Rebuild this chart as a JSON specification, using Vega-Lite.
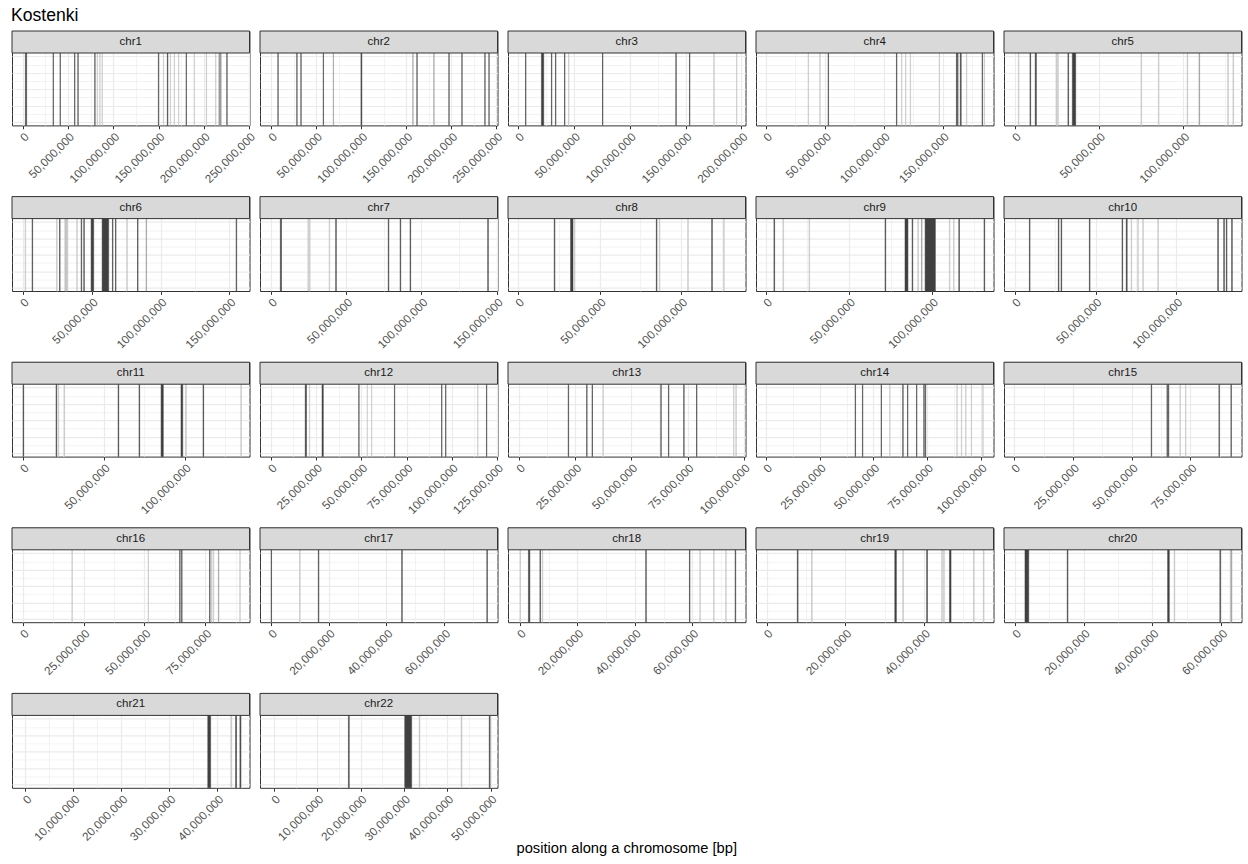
{
"$schema":"https://vega.github.io/schema/vega-lite/v6.json",
"padding":{"left":11,"top":7,"right":5,"bottom":3},
"title":{"text":"Kostenki","anchor":"start","fontSize":17.6,"fontWeight":"normal","color":"#000000","offset":5},
"data":{"values":[
{"chr":"chr1","start":2800000,"end":4200000,"tone":"dark"},
{"chr":"chr1","start":33400000,"end":33800000,"tone":"dark"},
{"chr":"chr1","start":41100000,"end":41500000,"tone":"dark"},
{"chr":"chr1","start":57200000,"end":57600000,"tone":"dark"},
{"chr":"chr1","start":60800000,"end":61200000,"tone":"dark"},
{"chr":"chr1","start":79500000,"end":79900000,"tone":"dark"},
{"chr":"chr1","start":82100000,"end":82500000,"tone":"light"},
{"chr":"chr1","start":85000000,"end":85400000,"tone":"light"},
{"chr":"chr1","start":87500000,"end":87900000,"tone":"light"},
{"chr":"chr1","start":149800000,"end":150200000,"tone":"dark"},
{"chr":"chr1","start":155300000,"end":155700000,"tone":"light"},
{"chr":"chr1","start":159700000,"end":160400000,"tone":"dark"},
{"chr":"chr1","start":163000000,"end":163400000,"tone":"light"},
{"chr":"chr1","start":167300000,"end":167700000,"tone":"light"},
{"chr":"chr1","start":172100000,"end":172500000,"tone":"light"},
{"chr":"chr1","start":180500000,"end":180900000,"tone":"dark"},
{"chr":"chr1","start":189300000,"end":189700000,"tone":"light"},
{"chr":"chr1","start":202800000,"end":203200000,"tone":"light"},
{"chr":"chr1","start":213100000,"end":213500000,"tone":"light"},
{"chr":"chr1","start":216700000,"end":219300000,"tone":"mid"},
{"chr":"chr1","start":225500000,"end":225900000,"tone":"dark"},
{"chr":"chr2","start":7600000,"end":8000000,"tone":"dark"},
{"chr":"chr2","start":28600000,"end":29000000,"tone":"dark"},
{"chr":"chr2","start":33100000,"end":33500000,"tone":"dark"},
{"chr":"chr2","start":57900000,"end":58300000,"tone":"dark"},
{"chr":"chr2","start":69000000,"end":69400000,"tone":"mid"},
{"chr":"chr2","start":99800000,"end":100800000,"tone":"dark"},
{"chr":"chr2","start":157300000,"end":157700000,"tone":"mid"},
{"chr":"chr2","start":161800000,"end":162200000,"tone":"dark"},
{"chr":"chr2","start":180600000,"end":181000000,"tone":"mid"},
{"chr":"chr2","start":197300000,"end":197700000,"tone":"dark"},
{"chr":"chr2","start":211700000,"end":212100000,"tone":"dark"},
{"chr":"chr2","start":237200000,"end":237600000,"tone":"dark"},
{"chr":"chr2","start":241700000,"end":242100000,"tone":"dark"},
{"chr":"chr3","start":6700000,"end":7100000,"tone":"dark"},
{"chr":"chr3","start":20900000,"end":23000000,"tone":"dark"},
{"chr":"chr3","start":29900000,"end":30300000,"tone":"dark"},
{"chr":"chr3","start":33500000,"end":33900000,"tone":"dark"},
{"chr":"chr3","start":41600000,"end":42000000,"tone":"dark"},
{"chr":"chr3","start":45200000,"end":45600000,"tone":"light"},
{"chr":"chr3","start":75600000,"end":76000000,"tone":"dark"},
{"chr":"chr3","start":141300000,"end":141700000,"tone":"dark"},
{"chr":"chr3","start":153500000,"end":153900000,"tone":"dark"},
{"chr":"chr3","start":175300000,"end":175700000,"tone":"light"},
{"chr":"chr3","start":195600000,"end":196000000,"tone":"light"},
{"chr":"chr4","start":35700000,"end":36100000,"tone":"light"},
{"chr":"chr4","start":45600000,"end":46000000,"tone":"light"},
{"chr":"chr4","start":52700000,"end":53100000,"tone":"dark"},
{"chr":"chr4","start":110700000,"end":111100000,"tone":"dark"},
{"chr":"chr4","start":115000000,"end":115400000,"tone":"light"},
{"chr":"chr4","start":118400000,"end":118800000,"tone":"light"},
{"chr":"chr4","start":122300000,"end":122700000,"tone":"light"},
{"chr":"chr4","start":146900000,"end":147300000,"tone":"light"},
{"chr":"chr4","start":161600000,"end":162000000,"tone":"dark"},
{"chr":"chr4","start":162600000,"end":163000000,"tone":"dark"},
{"chr":"chr4","start":164900000,"end":165700000,"tone":"dark"},
{"chr":"chr4","start":170100000,"end":170500000,"tone":"light"},
{"chr":"chr4","start":183400000,"end":183800000,"tone":"dark"},
{"chr":"chr4","start":185100000,"end":185500000,"tone":"light"},
{"chr":"chr5","start":2200000,"end":2600000,"tone":"light"},
{"chr":"chr5","start":9100000,"end":9500000,"tone":"dark"},
{"chr":"chr5","start":12200000,"end":12900000,"tone":"dark"},
{"chr":"chr5","start":24500000,"end":24900000,"tone":"light"},
{"chr":"chr5","start":25500000,"end":25900000,"tone":"light"},
{"chr":"chr5","start":31600000,"end":32000000,"tone":"dark"},
{"chr":"chr5","start":34200000,"end":36200000,"tone":"dark"},
{"chr":"chr5","start":74900000,"end":75300000,"tone":"light"},
{"chr":"chr5","start":85200000,"end":85600000,"tone":"light"},
{"chr":"chr5","start":102200000,"end":102600000,"tone":"light"},
{"chr":"chr5","start":109300000,"end":109700000,"tone":"mid"},
{"chr":"chr5","start":126300000,"end":126700000,"tone":"light"},
{"chr":"chr5","start":129400000,"end":129800000,"tone":"light"},
{"chr":"chr6","start":1700000,"end":2100000,"tone":"light"},
{"chr":"chr6","start":6800000,"end":7200000,"tone":"dark"},
{"chr":"chr6","start":24500000,"end":24900000,"tone":"light"},
{"chr":"chr6","start":26700000,"end":27100000,"tone":"dark"},
{"chr":"chr6","start":30500000,"end":32700000,"tone":"light"},
{"chr":"chr6","start":39200000,"end":39600000,"tone":"light"},
{"chr":"chr6","start":42400000,"end":42800000,"tone":"dark"},
{"chr":"chr6","start":44300000,"end":44700000,"tone":"dark"},
{"chr":"chr6","start":49600000,"end":51500000,"tone":"dark"},
{"chr":"chr6","start":57600000,"end":62400000,"tone":"dark"},
{"chr":"chr6","start":65100000,"end":65500000,"tone":"dark"},
{"chr":"chr6","start":67300000,"end":67700000,"tone":"dark"},
{"chr":"chr6","start":75500000,"end":75900000,"tone":"light"},
{"chr":"chr6","start":83300000,"end":83700000,"tone":"dark"},
{"chr":"chr6","start":89500000,"end":89900000,"tone":"mid"},
{"chr":"chr6","start":154900000,"end":155300000,"tone":"dark"},
{"chr":"chr7","start":6200000,"end":7000000,"tone":"dark"},
{"chr":"chr7","start":24500000,"end":24900000,"tone":"light"},
{"chr":"chr7","start":25600000,"end":26000000,"tone":"light"},
{"chr":"chr7","start":38600000,"end":39000000,"tone":"light"},
{"chr":"chr7","start":43000000,"end":43400000,"tone":"dark"},
{"chr":"chr7","start":77900000,"end":78300000,"tone":"dark"},
{"chr":"chr7","start":85800000,"end":86200000,"tone":"dark"},
{"chr":"chr7","start":92400000,"end":92800000,"tone":"dark"},
{"chr":"chr7","start":144000000,"end":144400000,"tone":"dark"},
{"chr":"chr8","start":22200000,"end":22600000,"tone":"dark"},
{"chr":"chr8","start":32200000,"end":33700000,"tone":"dark"},
{"chr":"chr8","start":34500000,"end":34900000,"tone":"light"},
{"chr":"chr8","start":84700000,"end":85100000,"tone":"dark"},
{"chr":"chr8","start":86500000,"end":86900000,"tone":"light"},
{"chr":"chr8","start":103900000,"end":104300000,"tone":"light"},
{"chr":"chr8","start":118600000,"end":119000000,"tone":"dark"},
{"chr":"chr8","start":125900000,"end":126300000,"tone":"light"},
{"chr":"chr9","start":4800000,"end":5200000,"tone":"dark"},
{"chr":"chr9","start":10200000,"end":10600000,"tone":"light"},
{"chr":"chr9","start":25900000,"end":26300000,"tone":"light"},
{"chr":"chr9","start":71700000,"end":72100000,"tone":"dark"},
{"chr":"chr9","start":83700000,"end":85500000,"tone":"dark"},
{"chr":"chr9","start":88000000,"end":88400000,"tone":"dark"},
{"chr":"chr9","start":91400000,"end":91800000,"tone":"light"},
{"chr":"chr9","start":93600000,"end":94000000,"tone":"mid"},
{"chr":"chr9","start":95800000,"end":102000000,"tone":"dark"},
{"chr":"chr9","start":110400000,"end":110800000,"tone":"light"},
{"chr":"chr9","start":112900000,"end":113300000,"tone":"light"},
{"chr":"chr9","start":116100000,"end":116500000,"tone":"dark"},
{"chr":"chr9","start":131300000,"end":131700000,"tone":"dark"},
{"chr":"chr10","start":9100000,"end":9500000,"tone":"dark"},
{"chr":"chr10","start":27000000,"end":27400000,"tone":"dark"},
{"chr":"chr10","start":28700000,"end":29100000,"tone":"dark"},
{"chr":"chr10","start":46200000,"end":46600000,"tone":"dark"},
{"chr":"chr10","start":66400000,"end":66800000,"tone":"dark"},
{"chr":"chr10","start":69000000,"end":69600000,"tone":"dark"},
{"chr":"chr10","start":72000000,"end":72400000,"tone":"light"},
{"chr":"chr10","start":76100000,"end":76500000,"tone":"light"},
{"chr":"chr10","start":79200000,"end":79600000,"tone":"light"},
{"chr":"chr10","start":88500000,"end":88900000,"tone":"light"},
{"chr":"chr10","start":125600000,"end":126000000,"tone":"dark"},
{"chr":"chr10","start":129300000,"end":129700000,"tone":"dark"},
{"chr":"chr10","start":130900000,"end":131300000,"tone":"dark"},
{"chr":"chr10","start":134200000,"end":134600000,"tone":"dark"},
{"chr":"chr11","start":200000,"end":600000,"tone":"dark"},
{"chr":"chr11","start":20600000,"end":21000000,"tone":"dark"},
{"chr":"chr11","start":21800000,"end":22200000,"tone":"light"},
{"chr":"chr11","start":25500000,"end":25900000,"tone":"light"},
{"chr":"chr11","start":58900000,"end":59300000,"tone":"dark"},
{"chr":"chr11","start":71800000,"end":72200000,"tone":"dark"},
{"chr":"chr11","start":85400000,"end":86800000,"tone":"dark"},
{"chr":"chr11","start":97700000,"end":98800000,"tone":"dark"},
{"chr":"chr11","start":100600000,"end":101000000,"tone":"light"},
{"chr":"chr11","start":111300000,"end":111700000,"tone":"dark"},
{"chr":"chr11","start":134600000,"end":135000000,"tone":"light"},
{"chr":"chr12","start":19000000,"end":19700000,"tone":"dark"},
{"chr":"chr12","start":21300000,"end":21500000,"tone":"light"},
{"chr":"chr12","start":28300000,"end":29000000,"tone":"dark"},
{"chr":"chr12","start":48600000,"end":48800000,"tone":"dark"},
{"chr":"chr12","start":53200000,"end":53400000,"tone":"light"},
{"chr":"chr12","start":55600000,"end":55800000,"tone":"light"},
{"chr":"chr12","start":68300000,"end":68500000,"tone":"dark"},
{"chr":"chr12","start":94400000,"end":94600000,"tone":"dark"},
{"chr":"chr12","start":96600000,"end":96800000,"tone":"dark"},
{"chr":"chr12","start":114300000,"end":114500000,"tone":"light"},
{"chr":"chr12","start":119200000,"end":119400000,"tone":"dark"},
{"chr":"chr13","start":21900000,"end":22100000,"tone":"dark"},
{"chr":"chr13","start":30100000,"end":30300000,"tone":"dark"},
{"chr":"chr13","start":32500000,"end":32700000,"tone":"dark"},
{"chr":"chr13","start":37300000,"end":37500000,"tone":"light"},
{"chr":"chr13","start":63100000,"end":63300000,"tone":"dark"},
{"chr":"chr13","start":66500000,"end":66700000,"tone":"dark"},
{"chr":"chr13","start":73300000,"end":73500000,"tone":"dark"},
{"chr":"chr13","start":79000000,"end":79200000,"tone":"dark"},
{"chr":"chr13","start":95500000,"end":95700000,"tone":"light"},
{"chr":"chr13","start":96500000,"end":96700000,"tone":"light"},
{"chr":"chr14","start":41500000,"end":41700000,"tone":"dark"},
{"chr":"chr14","start":44900000,"end":45100000,"tone":"dark"},
{"chr":"chr14","start":53600000,"end":53800000,"tone":"dark"},
{"chr":"chr14","start":57600000,"end":57800000,"tone":"light"},
{"chr":"chr14","start":63700000,"end":63900000,"tone":"dark"},
{"chr":"chr14","start":65900000,"end":66100000,"tone":"dark"},
{"chr":"chr14","start":70100000,"end":70300000,"tone":"dark"},
{"chr":"chr14","start":73500000,"end":73700000,"tone":"dark"},
{"chr":"chr14","start":74200000,"end":74400000,"tone":"dark"},
{"chr":"chr14","start":88900000,"end":89100000,"tone":"light"},
{"chr":"chr14","start":91000000,"end":91200000,"tone":"light"},
{"chr":"chr14","start":93000000,"end":93200000,"tone":"light"},
{"chr":"chr14","start":95600000,"end":95800000,"tone":"light"},
{"chr":"chr14","start":101000000,"end":101200000,"tone":"light"},
{"chr":"chr15","start":58300000,"end":58500000,"tone":"dark"},
{"chr":"chr15","start":65000000,"end":65200000,"tone":"dark"},
{"chr":"chr15","start":65600000,"end":65800000,"tone":"dark"},
{"chr":"chr15","start":70500000,"end":70700000,"tone":"light"},
{"chr":"chr15","start":72900000,"end":73100000,"tone":"light"},
{"chr":"chr15","start":87100000,"end":87300000,"tone":"dark"},
{"chr":"chr15","start":92200000,"end":92400000,"tone":"dark"},
{"chr":"chr16","start":20200000,"end":20400000,"tone":"light"},
{"chr":"chr16","start":51500000,"end":51700000,"tone":"light"},
{"chr":"chr16","start":64500000,"end":64700000,"tone":"dark"},
{"chr":"chr16","start":65300000,"end":65500000,"tone":"dark"},
{"chr":"chr16","start":76800000,"end":77000000,"tone":"dark"},
{"chr":"chr16","start":77600000,"end":77800000,"tone":"light"},
{"chr":"chr16","start":78300000,"end":78500000,"tone":"light"},
{"chr":"chr16","start":80400000,"end":80600000,"tone":"mid"},
{"chr":"chr16","start":89200000,"end":89400000,"tone":"light"},
{"chr":"chr17","start":50000,"end":200000,"tone":"dark"},
{"chr":"chr17","start":9900000,"end":10100000,"tone":"light"},
{"chr":"chr17","start":16400000,"end":16600000,"tone":"dark"},
{"chr":"chr17","start":45300000,"end":45500000,"tone":"dark"},
{"chr":"chr17","start":74800000,"end":75000000,"tone":"dark"},
{"chr":"chr18","start":50000,"end":200000,"tone":"light"},
{"chr":"chr18","start":3000000,"end":3500000,"tone":"dark"},
{"chr":"chr18","start":7000000,"end":7200000,"tone":"dark"},
{"chr":"chr18","start":7800000,"end":8000000,"tone":"light"},
{"chr":"chr18","start":43800000,"end":44000000,"tone":"dark"},
{"chr":"chr18","start":59000000,"end":59200000,"tone":"dark"},
{"chr":"chr18","start":62600000,"end":62800000,"tone":"light"},
{"chr":"chr18","start":67400000,"end":67600000,"tone":"light"},
{"chr":"chr18","start":71600000,"end":71800000,"tone":"light"},
{"chr":"chr18","start":74900000,"end":75100000,"tone":"dark"},
{"chr":"chr19","start":7800000,"end":8000000,"tone":"dark"},
{"chr":"chr19","start":11400000,"end":11600000,"tone":"light"},
{"chr":"chr19","start":32600000,"end":33000000,"tone":"dark"},
{"chr":"chr19","start":34600000,"end":34800000,"tone":"light"},
{"chr":"chr19","start":40700000,"end":40900000,"tone":"dark"},
{"chr":"chr19","start":44500000,"end":44700000,"tone":"light"},
{"chr":"chr19","start":45000000,"end":45200000,"tone":"light"},
{"chr":"chr19","start":46500000,"end":46900000,"tone":"dark"},
{"chr":"chr19","start":52600000,"end":52800000,"tone":"light"},
{"chr":"chr19","start":55100000,"end":55300000,"tone":"light"},
{"chr":"chr20","start":2900000,"end":4000000,"tone":"dark"},
{"chr":"chr20","start":15200000,"end":15400000,"tone":"dark"},
{"chr":"chr20","start":44400000,"end":44900000,"tone":"dark"},
{"chr":"chr20","start":46300000,"end":46500000,"tone":"light"},
{"chr":"chr20","start":59600000,"end":59800000,"tone":"dark"},
{"chr":"chr20","start":62600000,"end":62800000,"tone":"light"},
{"chr":"chr20","start":62900000,"end":63100000,"tone":"mid"},
{"chr":"chr21","start":38000000,"end":38600000,"tone":"dark"},
{"chr":"chr21","start":42800000,"end":43000000,"tone":"light"},
{"chr":"chr21","start":43800000,"end":44000000,"tone":"dark"},
{"chr":"chr21","start":44700000,"end":44900000,"tone":"dark"},
{"chr":"chr22","start":17200000,"end":17400000,"tone":"dark"},
{"chr":"chr22","start":30200000,"end":31800000,"tone":"dark"},
{"chr":"chr22","start":33500000,"end":33700000,"tone":"light"},
{"chr":"chr22","start":43200000,"end":43400000,"tone":"light"},
{"chr":"chr22","start":49700000,"end":49900000,"tone":"dark"}
]},
"vconcat":[{
"title":{"text":"position along a chromosome [bp]","orient":"bottom","anchor":"middle","fontSize":14.7,"fontWeight":"normal","color":"#000000","offset":-2},
"columns":5,
"spacing":{"row":70.6,"column":10},
"bounds":"flush",
"concat":[
{"transform":[{"filter":"datum.chr==='chr1'"}],"layer":[
{"mark":{"type":"rect","strokeWidth":0.5},"encoding":{
"x":{"field":"start","type":"quantitative","title":null,"scale":{"domain":[-12000000,250600000],"nice":false,"zero":false},"axis":{"values":[0,25000000.5,50000000,75000000.5,100000000,125000000.5,150000000,175000000.5,200000000,225000000.5,250000000],"tickCount":100,"labelExpr":"datum.value%1===0?format(datum.value,','):''","tickOpacity":{"condition":{"test":"datum.value%1===0","value":1},"value":0},"gridWidth":{"condition":{"test":"datum.value%1===0","value":1.2},"value":0.6}}},
"x2":{"field":"end"},
"y":{"datum":-0.05,"type":"quantitative","title":null,"scale":{"domain":[-0.05,1.3843],"nice":false,"zero":false},"axis":{"values":[0,0.125,0.25,0.375,0.5,0.625,0.75,0.875,1],"tickCount":100,"gridWidth":{"condition":{"test":"datum.value*4%1===0","value":1.2},"value":0.6}}},
"y2":{"datum":1.05},
"fill":{"field":"tone","type":"nominal","legend":null},
"stroke":{"field":"tone","type":"nominal","legend":null}}},
{"transform":[{"aggregate":[{"op":"count","as":"n"}],"groupby":["chr"]}],"mark":{"type":"rect","fill":"#D9D9D9","stroke":"#333333","strokeWidth":1},"encoding":{"y":{"datum":1.05,"type":"quantitative"},"y2":{"datum":1.3843}}},
{"transform":[{"aggregate":[{"op":"count","as":"n"}],"groupby":["chr"]}],"mark":{"type":"text"},"encoding":{"y":{"datum":1.217,"type":"quantitative"},"text":{"field":"chr"}}}
]},
{"transform":[{"filter":"datum.chr==='chr2'"}],"layer":[
{"mark":{"type":"rect","strokeWidth":0.5},"encoding":{
"x":{"field":"start","type":"quantitative","title":null,"scale":{"domain":[-12200000,251300000],"nice":false,"zero":false},"axis":{"values":[0,25000000.5,50000000,75000000.5,100000000,125000000.5,150000000,175000000.5,200000000,225000000.5,250000000],"tickCount":100,"labelExpr":"datum.value%1===0?format(datum.value,','):''","tickOpacity":{"condition":{"test":"datum.value%1===0","value":1},"value":0},"gridWidth":{"condition":{"test":"datum.value%1===0","value":1.2},"value":0.6}}},
"x2":{"field":"end"},
"y":{"datum":-0.05,"type":"quantitative","title":null,"scale":{"domain":[-0.05,1.3843],"nice":false,"zero":false},"axis":{"values":[0,0.125,0.25,0.375,0.5,0.625,0.75,0.875,1],"tickCount":100,"gridWidth":{"condition":{"test":"datum.value*4%1===0","value":1.2},"value":0.6}}},
"y2":{"datum":1.05},
"fill":{"field":"tone","type":"nominal","legend":null},
"stroke":{"field":"tone","type":"nominal","legend":null}}},
{"transform":[{"aggregate":[{"op":"count","as":"n"}],"groupby":["chr"]}],"mark":{"type":"rect","fill":"#D9D9D9","stroke":"#333333","strokeWidth":1},"encoding":{"y":{"datum":1.05,"type":"quantitative"},"y2":{"datum":1.3843}}},
{"transform":[{"aggregate":[{"op":"count","as":"n"}],"groupby":["chr"]}],"mark":{"type":"text"},"encoding":{"y":{"datum":1.217,"type":"quantitative"},"text":{"field":"chr"}}}
]},
{"transform":[{"filter":"datum.chr==='chr3'"}],"layer":[
{"mark":{"type":"rect","strokeWidth":0.5},"encoding":{
"x":{"field":"start","type":"quantitative","title":null,"scale":{"domain":[-9000000,203700000],"nice":false,"zero":false},"axis":{"values":[0,25000000.5,50000000,75000000.5,100000000,125000000.5,150000000,175000000.5,200000000],"tickCount":100,"labelExpr":"datum.value%1===0?format(datum.value,','):''","tickOpacity":{"condition":{"test":"datum.value%1===0","value":1},"value":0},"gridWidth":{"condition":{"test":"datum.value%1===0","value":1.2},"value":0.6}}},
"x2":{"field":"end"},
"y":{"datum":-0.05,"type":"quantitative","title":null,"scale":{"domain":[-0.05,1.3843],"nice":false,"zero":false},"axis":{"values":[0,0.125,0.25,0.375,0.5,0.625,0.75,0.875,1],"tickCount":100,"gridWidth":{"condition":{"test":"datum.value*4%1===0","value":1.2},"value":0.6}}},
"y2":{"datum":1.05},
"fill":{"field":"tone","type":"nominal","legend":null},
"stroke":{"field":"tone","type":"nominal","legend":null}}},
{"transform":[{"aggregate":[{"op":"count","as":"n"}],"groupby":["chr"]}],"mark":{"type":"rect","fill":"#D9D9D9","stroke":"#333333","strokeWidth":1},"encoding":{"y":{"datum":1.05,"type":"quantitative"},"y2":{"datum":1.3843}}},
{"transform":[{"aggregate":[{"op":"count","as":"n"}],"groupby":["chr"]}],"mark":{"type":"text"},"encoding":{"y":{"datum":1.217,"type":"quantitative"},"text":{"field":"chr"}}}
]},
{"transform":[{"filter":"datum.chr==='chr4'"}],"layer":[
{"mark":{"type":"rect","strokeWidth":0.5},"encoding":{
"x":{"field":"start","type":"quantitative","title":null,"scale":{"domain":[-8500000,193100000],"nice":false,"zero":false},"axis":{"values":[0,25000000.5,50000000,75000000.5,100000000,125000000.5,150000000,175000000.5],"tickCount":100,"labelExpr":"datum.value%1===0?format(datum.value,','):''","tickOpacity":{"condition":{"test":"datum.value%1===0","value":1},"value":0},"gridWidth":{"condition":{"test":"datum.value%1===0","value":1.2},"value":0.6}}},
"x2":{"field":"end"},
"y":{"datum":-0.05,"type":"quantitative","title":null,"scale":{"domain":[-0.05,1.3843],"nice":false,"zero":false},"axis":{"values":[0,0.125,0.25,0.375,0.5,0.625,0.75,0.875,1],"tickCount":100,"gridWidth":{"condition":{"test":"datum.value*4%1===0","value":1.2},"value":0.6}}},
"y2":{"datum":1.05},
"fill":{"field":"tone","type":"nominal","legend":null},
"stroke":{"field":"tone","type":"nominal","legend":null}}},
{"transform":[{"aggregate":[{"op":"count","as":"n"}],"groupby":["chr"]}],"mark":{"type":"rect","fill":"#D9D9D9","stroke":"#333333","strokeWidth":1},"encoding":{"y":{"datum":1.05,"type":"quantitative"},"y2":{"datum":1.3843}}},
{"transform":[{"aggregate":[{"op":"count","as":"n"}],"groupby":["chr"]}],"mark":{"type":"text"},"encoding":{"y":{"datum":1.217,"type":"quantitative"},"text":{"field":"chr"}}}
]},
{"transform":[{"filter":"datum.chr==='chr5'"}],"layer":[
{"mark":{"type":"rect","strokeWidth":0.5},"encoding":{
"x":{"field":"start","type":"quantitative","title":null,"scale":{"domain":[-6300000,134500000],"nice":false,"zero":false},"axis":{"values":[0,25000000.5,50000000,75000000.5,100000000,125000000.5],"tickCount":100,"labelExpr":"datum.value%1===0?format(datum.value,','):''","tickOpacity":{"condition":{"test":"datum.value%1===0","value":1},"value":0},"gridWidth":{"condition":{"test":"datum.value%1===0","value":1.2},"value":0.6}}},
"x2":{"field":"end"},
"y":{"datum":-0.05,"type":"quantitative","title":null,"scale":{"domain":[-0.05,1.3843],"nice":false,"zero":false},"axis":{"values":[0,0.125,0.25,0.375,0.5,0.625,0.75,0.875,1],"tickCount":100,"gridWidth":{"condition":{"test":"datum.value*4%1===0","value":1.2},"value":0.6}}},
"y2":{"datum":1.05},
"fill":{"field":"tone","type":"nominal","legend":null},
"stroke":{"field":"tone","type":"nominal","legend":null}}},
{"transform":[{"aggregate":[{"op":"count","as":"n"}],"groupby":["chr"]}],"mark":{"type":"rect","fill":"#D9D9D9","stroke":"#333333","strokeWidth":1},"encoding":{"y":{"datum":1.05,"type":"quantitative"},"y2":{"datum":1.3843}}},
{"transform":[{"aggregate":[{"op":"count","as":"n"}],"groupby":["chr"]}],"mark":{"type":"text"},"encoding":{"y":{"datum":1.217,"type":"quantitative"},"text":{"field":"chr"}}}
]},
{"transform":[{"filter":"datum.chr==='chr6'"}],"layer":[
{"mark":{"type":"rect","strokeWidth":0.5},"encoding":{
"x":{"field":"start","type":"quantitative","title":null,"scale":{"domain":[-7800000,164600000],"nice":false,"zero":false},"axis":{"values":[0,25000000.5,50000000,75000000.5,100000000,125000000.5,150000000],"tickCount":100,"labelExpr":"datum.value%1===0?format(datum.value,','):''","tickOpacity":{"condition":{"test":"datum.value%1===0","value":1},"value":0},"gridWidth":{"condition":{"test":"datum.value%1===0","value":1.2},"value":0.6}}},
"x2":{"field":"end"},
"y":{"datum":-0.05,"type":"quantitative","title":null,"scale":{"domain":[-0.05,1.3843],"nice":false,"zero":false},"axis":{"values":[0,0.125,0.25,0.375,0.5,0.625,0.75,0.875,1],"tickCount":100,"gridWidth":{"condition":{"test":"datum.value*4%1===0","value":1.2},"value":0.6}}},
"y2":{"datum":1.05},
"fill":{"field":"tone","type":"nominal","legend":null},
"stroke":{"field":"tone","type":"nominal","legend":null}}},
{"transform":[{"aggregate":[{"op":"count","as":"n"}],"groupby":["chr"]}],"mark":{"type":"rect","fill":"#D9D9D9","stroke":"#333333","strokeWidth":1},"encoding":{"y":{"datum":1.05,"type":"quantitative"},"y2":{"datum":1.3843}}},
{"transform":[{"aggregate":[{"op":"count","as":"n"}],"groupby":["chr"]}],"mark":{"type":"text"},"encoding":{"y":{"datum":1.217,"type":"quantitative"},"text":{"field":"chr"}}}
]},
{"transform":[{"filter":"datum.chr==='chr7'"}],"layer":[
{"mark":{"type":"rect","strokeWidth":0.5},"encoding":{
"x":{"field":"start","type":"quantitative","title":null,"scale":{"domain":[-7300000,150500000],"nice":false,"zero":false},"axis":{"values":[0,25000000.5,50000000,75000000.5,100000000,125000000.5,150000000],"tickCount":100,"labelExpr":"datum.value%1===0?format(datum.value,','):''","tickOpacity":{"condition":{"test":"datum.value%1===0","value":1},"value":0},"gridWidth":{"condition":{"test":"datum.value%1===0","value":1.2},"value":0.6}}},
"x2":{"field":"end"},
"y":{"datum":-0.05,"type":"quantitative","title":null,"scale":{"domain":[-0.05,1.3843],"nice":false,"zero":false},"axis":{"values":[0,0.125,0.25,0.375,0.5,0.625,0.75,0.875,1],"tickCount":100,"gridWidth":{"condition":{"test":"datum.value*4%1===0","value":1.2},"value":0.6}}},
"y2":{"datum":1.05},
"fill":{"field":"tone","type":"nominal","legend":null},
"stroke":{"field":"tone","type":"nominal","legend":null}}},
{"transform":[{"aggregate":[{"op":"count","as":"n"}],"groupby":["chr"]}],"mark":{"type":"rect","fill":"#D9D9D9","stroke":"#333333","strokeWidth":1},"encoding":{"y":{"datum":1.05,"type":"quantitative"},"y2":{"datum":1.3843}}},
{"transform":[{"aggregate":[{"op":"count","as":"n"}],"groupby":["chr"]}],"mark":{"type":"text"},"encoding":{"y":{"datum":1.217,"type":"quantitative"},"text":{"field":"chr"}}}
]},
{"transform":[{"filter":"datum.chr==='chr8'"}],"layer":[
{"mark":{"type":"rect","strokeWidth":0.5},"encoding":{
"x":{"field":"start","type":"quantitative","title":null,"scale":{"domain":[-6100000,139300000],"nice":false,"zero":false},"axis":{"values":[0,25000000.5,50000000,75000000.5,100000000,125000000.5],"tickCount":100,"labelExpr":"datum.value%1===0?format(datum.value,','):''","tickOpacity":{"condition":{"test":"datum.value%1===0","value":1},"value":0},"gridWidth":{"condition":{"test":"datum.value%1===0","value":1.2},"value":0.6}}},
"x2":{"field":"end"},
"y":{"datum":-0.05,"type":"quantitative","title":null,"scale":{"domain":[-0.05,1.3843],"nice":false,"zero":false},"axis":{"values":[0,0.125,0.25,0.375,0.5,0.625,0.75,0.875,1],"tickCount":100,"gridWidth":{"condition":{"test":"datum.value*4%1===0","value":1.2},"value":0.6}}},
"y2":{"datum":1.05},
"fill":{"field":"tone","type":"nominal","legend":null},
"stroke":{"field":"tone","type":"nominal","legend":null}}},
{"transform":[{"aggregate":[{"op":"count","as":"n"}],"groupby":["chr"]}],"mark":{"type":"rect","fill":"#D9D9D9","stroke":"#333333","strokeWidth":1},"encoding":{"y":{"datum":1.05,"type":"quantitative"},"y2":{"datum":1.3843}}},
{"transform":[{"aggregate":[{"op":"count","as":"n"}],"groupby":["chr"]}],"mark":{"type":"text"},"encoding":{"y":{"datum":1.217,"type":"quantitative"},"text":{"field":"chr"}}}
]},
{"transform":[{"filter":"datum.chr==='chr9'"}],"layer":[
{"mark":{"type":"rect","strokeWidth":0.5},"encoding":{
"x":{"field":"start","type":"quantitative","title":null,"scale":{"domain":[-6000000,137000000],"nice":false,"zero":false},"axis":{"values":[0,25000000.5,50000000,75000000.5,100000000,125000000.5],"tickCount":100,"labelExpr":"datum.value%1===0?format(datum.value,','):''","tickOpacity":{"condition":{"test":"datum.value%1===0","value":1},"value":0},"gridWidth":{"condition":{"test":"datum.value%1===0","value":1.2},"value":0.6}}},
"x2":{"field":"end"},
"y":{"datum":-0.05,"type":"quantitative","title":null,"scale":{"domain":[-0.05,1.3843],"nice":false,"zero":false},"axis":{"values":[0,0.125,0.25,0.375,0.5,0.625,0.75,0.875,1],"tickCount":100,"gridWidth":{"condition":{"test":"datum.value*4%1===0","value":1.2},"value":0.6}}},
"y2":{"datum":1.05},
"fill":{"field":"tone","type":"nominal","legend":null},
"stroke":{"field":"tone","type":"nominal","legend":null}}},
{"transform":[{"aggregate":[{"op":"count","as":"n"}],"groupby":["chr"]}],"mark":{"type":"rect","fill":"#D9D9D9","stroke":"#333333","strokeWidth":1},"encoding":{"y":{"datum":1.05,"type":"quantitative"},"y2":{"datum":1.3843}}},
{"transform":[{"aggregate":[{"op":"count","as":"n"}],"groupby":["chr"]}],"mark":{"type":"text"},"encoding":{"y":{"datum":1.217,"type":"quantitative"},"text":{"field":"chr"}}}
]},
{"transform":[{"filter":"datum.chr==='chr10'"}],"layer":[
{"mark":{"type":"rect","strokeWidth":0.5},"encoding":{
"x":{"field":"start","type":"quantitative","title":null,"scale":{"domain":[-6600000,140300000],"nice":false,"zero":false},"axis":{"values":[0,25000000.5,50000000,75000000.5,100000000,125000000.5],"tickCount":100,"labelExpr":"datum.value%1===0?format(datum.value,','):''","tickOpacity":{"condition":{"test":"datum.value%1===0","value":1},"value":0},"gridWidth":{"condition":{"test":"datum.value%1===0","value":1.2},"value":0.6}}},
"x2":{"field":"end"},
"y":{"datum":-0.05,"type":"quantitative","title":null,"scale":{"domain":[-0.05,1.3843],"nice":false,"zero":false},"axis":{"values":[0,0.125,0.25,0.375,0.5,0.625,0.75,0.875,1],"tickCount":100,"gridWidth":{"condition":{"test":"datum.value*4%1===0","value":1.2},"value":0.6}}},
"y2":{"datum":1.05},
"fill":{"field":"tone","type":"nominal","legend":null},
"stroke":{"field":"tone","type":"nominal","legend":null}}},
{"transform":[{"aggregate":[{"op":"count","as":"n"}],"groupby":["chr"]}],"mark":{"type":"rect","fill":"#D9D9D9","stroke":"#333333","strokeWidth":1},"encoding":{"y":{"datum":1.05,"type":"quantitative"},"y2":{"datum":1.3843}}},
{"transform":[{"aggregate":[{"op":"count","as":"n"}],"groupby":["chr"]}],"mark":{"type":"text"},"encoding":{"y":{"datum":1.217,"type":"quantitative"},"text":{"field":"chr"}}}
]},
{"transform":[{"filter":"datum.chr==='chr11'"}],"layer":[
{"mark":{"type":"rect","strokeWidth":0.5},"encoding":{
"x":{"field":"start","type":"quantitative","title":null,"scale":{"domain":[-6600000,140000000],"nice":false,"zero":false},"axis":{"values":[0,25000000.5,50000000,75000000.5,100000000,125000000.5],"tickCount":100,"labelExpr":"datum.value%1===0?format(datum.value,','):''","tickOpacity":{"condition":{"test":"datum.value%1===0","value":1},"value":0},"gridWidth":{"condition":{"test":"datum.value%1===0","value":1.2},"value":0.6}}},
"x2":{"field":"end"},
"y":{"datum":-0.05,"type":"quantitative","title":null,"scale":{"domain":[-0.05,1.3843],"nice":false,"zero":false},"axis":{"values":[0,0.125,0.25,0.375,0.5,0.625,0.75,0.875,1],"tickCount":100,"gridWidth":{"condition":{"test":"datum.value*4%1===0","value":1.2},"value":0.6}}},
"y2":{"datum":1.05},
"fill":{"field":"tone","type":"nominal","legend":null},
"stroke":{"field":"tone","type":"nominal","legend":null}}},
{"transform":[{"aggregate":[{"op":"count","as":"n"}],"groupby":["chr"]}],"mark":{"type":"rect","fill":"#D9D9D9","stroke":"#333333","strokeWidth":1},"encoding":{"y":{"datum":1.05,"type":"quantitative"},"y2":{"datum":1.3843}}},
{"transform":[{"aggregate":[{"op":"count","as":"n"}],"groupby":["chr"]}],"mark":{"type":"text"},"encoding":{"y":{"datum":1.217,"type":"quantitative"},"text":{"field":"chr"}}}
]},
{"transform":[{"filter":"datum.chr==='chr12'"}],"layer":[
{"mark":{"type":"rect","strokeWidth":0.5},"encoding":{
"x":{"field":"start","type":"quantitative","title":null,"scale":{"domain":[-6000000,125300000],"nice":false,"zero":false},"axis":{"values":[0,12500000.5,25000000,37500000.5,50000000,62500000.5,75000000,87500000.5,100000000,112500000.5,125000000],"tickCount":100,"labelExpr":"datum.value%1===0?format(datum.value,','):''","tickOpacity":{"condition":{"test":"datum.value%1===0","value":1},"value":0},"gridWidth":{"condition":{"test":"datum.value%1===0","value":1.2},"value":0.6}}},
"x2":{"field":"end"},
"y":{"datum":-0.05,"type":"quantitative","title":null,"scale":{"domain":[-0.05,1.3843],"nice":false,"zero":false},"axis":{"values":[0,0.125,0.25,0.375,0.5,0.625,0.75,0.875,1],"tickCount":100,"gridWidth":{"condition":{"test":"datum.value*4%1===0","value":1.2},"value":0.6}}},
"y2":{"datum":1.05},
"fill":{"field":"tone","type":"nominal","legend":null},
"stroke":{"field":"tone","type":"nominal","legend":null}}},
{"transform":[{"aggregate":[{"op":"count","as":"n"}],"groupby":["chr"]}],"mark":{"type":"rect","fill":"#D9D9D9","stroke":"#333333","strokeWidth":1},"encoding":{"y":{"datum":1.05,"type":"quantitative"},"y2":{"datum":1.3843}}},
{"transform":[{"aggregate":[{"op":"count","as":"n"}],"groupby":["chr"]}],"mark":{"type":"text"},"encoding":{"y":{"datum":1.217,"type":"quantitative"},"text":{"field":"chr"}}}
]},
{"transform":[{"filter":"datum.chr==='chr13'"}],"layer":[
{"mark":{"type":"rect","strokeWidth":0.5},"encoding":{
"x":{"field":"start","type":"quantitative","title":null,"scale":{"domain":[-4900000,100800000],"nice":false,"zero":false},"axis":{"values":[0,12500000.5,25000000,37500000.5,50000000,62500000.5,75000000,87500000.5,100000000],"tickCount":100,"labelExpr":"datum.value%1===0?format(datum.value,','):''","tickOpacity":{"condition":{"test":"datum.value%1===0","value":1},"value":0},"gridWidth":{"condition":{"test":"datum.value%1===0","value":1.2},"value":0.6}}},
"x2":{"field":"end"},
"y":{"datum":-0.05,"type":"quantitative","title":null,"scale":{"domain":[-0.05,1.3843],"nice":false,"zero":false},"axis":{"values":[0,0.125,0.25,0.375,0.5,0.625,0.75,0.875,1],"tickCount":100,"gridWidth":{"condition":{"test":"datum.value*4%1===0","value":1.2},"value":0.6}}},
"y2":{"datum":1.05},
"fill":{"field":"tone","type":"nominal","legend":null},
"stroke":{"field":"tone","type":"nominal","legend":null}}},
{"transform":[{"aggregate":[{"op":"count","as":"n"}],"groupby":["chr"]}],"mark":{"type":"rect","fill":"#D9D9D9","stroke":"#333333","strokeWidth":1},"encoding":{"y":{"datum":1.05,"type":"quantitative"},"y2":{"datum":1.3843}}},
{"transform":[{"aggregate":[{"op":"count","as":"n"}],"groupby":["chr"]}],"mark":{"type":"text"},"encoding":{"y":{"datum":1.217,"type":"quantitative"},"text":{"field":"chr"}}}
]},
{"transform":[{"filter":"datum.chr==='chr14'"}],"layer":[
{"mark":{"type":"rect","strokeWidth":0.5},"encoding":{
"x":{"field":"start","type":"quantitative","title":null,"scale":{"domain":[-4700000,106000000],"nice":false,"zero":false},"axis":{"values":[0,12500000.5,25000000,37500000.5,50000000,62500000.5,75000000,87500000.5,100000000],"tickCount":100,"labelExpr":"datum.value%1===0?format(datum.value,','):''","tickOpacity":{"condition":{"test":"datum.value%1===0","value":1},"value":0},"gridWidth":{"condition":{"test":"datum.value%1===0","value":1.2},"value":0.6}}},
"x2":{"field":"end"},
"y":{"datum":-0.05,"type":"quantitative","title":null,"scale":{"domain":[-0.05,1.3843],"nice":false,"zero":false},"axis":{"values":[0,0.125,0.25,0.375,0.5,0.625,0.75,0.875,1],"tickCount":100,"gridWidth":{"condition":{"test":"datum.value*4%1===0","value":1.2},"value":0.6}}},
"y2":{"datum":1.05},
"fill":{"field":"tone","type":"nominal","legend":null},
"stroke":{"field":"tone","type":"nominal","legend":null}}},
{"transform":[{"aggregate":[{"op":"count","as":"n"}],"groupby":["chr"]}],"mark":{"type":"rect","fill":"#D9D9D9","stroke":"#333333","strokeWidth":1},"encoding":{"y":{"datum":1.05,"type":"quantitative"},"y2":{"datum":1.3843}}},
{"transform":[{"aggregate":[{"op":"count","as":"n"}],"groupby":["chr"]}],"mark":{"type":"text"},"encoding":{"y":{"datum":1.217,"type":"quantitative"},"text":{"field":"chr"}}}
]},
{"transform":[{"filter":"datum.chr==='chr15'"}],"layer":[
{"mark":{"type":"rect","strokeWidth":0.5},"encoding":{
"x":{"field":"start","type":"quantitative","title":null,"scale":{"domain":[-4300000,96700000],"nice":false,"zero":false},"axis":{"values":[0,12500000.5,25000000,37500000.5,50000000,62500000.5,75000000,87500000.5],"tickCount":100,"labelExpr":"datum.value%1===0?format(datum.value,','):''","tickOpacity":{"condition":{"test":"datum.value%1===0","value":1},"value":0},"gridWidth":{"condition":{"test":"datum.value%1===0","value":1.2},"value":0.6}}},
"x2":{"field":"end"},
"y":{"datum":-0.05,"type":"quantitative","title":null,"scale":{"domain":[-0.05,1.3843],"nice":false,"zero":false},"axis":{"values":[0,0.125,0.25,0.375,0.5,0.625,0.75,0.875,1],"tickCount":100,"gridWidth":{"condition":{"test":"datum.value*4%1===0","value":1.2},"value":0.6}}},
"y2":{"datum":1.05},
"fill":{"field":"tone","type":"nominal","legend":null},
"stroke":{"field":"tone","type":"nominal","legend":null}}},
{"transform":[{"aggregate":[{"op":"count","as":"n"}],"groupby":["chr"]}],"mark":{"type":"rect","fill":"#D9D9D9","stroke":"#333333","strokeWidth":1},"encoding":{"y":{"datum":1.05,"type":"quantitative"},"y2":{"datum":1.3843}}},
{"transform":[{"aggregate":[{"op":"count","as":"n"}],"groupby":["chr"]}],"mark":{"type":"text"},"encoding":{"y":{"datum":1.217,"type":"quantitative"},"text":{"field":"chr"}}}
]},
{"transform":[{"filter":"datum.chr==='chr16'"}],"layer":[
{"mark":{"type":"rect","strokeWidth":0.5},"encoding":{
"x":{"field":"start","type":"quantitative","title":null,"scale":{"domain":[-4400000,93200000],"nice":false,"zero":false},"axis":{"values":[0,12500000.5,25000000,37500000.5,50000000,62500000.5,75000000,87500000.5],"tickCount":100,"labelExpr":"datum.value%1===0?format(datum.value,','):''","tickOpacity":{"condition":{"test":"datum.value%1===0","value":1},"value":0},"gridWidth":{"condition":{"test":"datum.value%1===0","value":1.2},"value":0.6}}},
"x2":{"field":"end"},
"y":{"datum":-0.05,"type":"quantitative","title":null,"scale":{"domain":[-0.05,1.3843],"nice":false,"zero":false},"axis":{"values":[0,0.125,0.25,0.375,0.5,0.625,0.75,0.875,1],"tickCount":100,"gridWidth":{"condition":{"test":"datum.value*4%1===0","value":1.2},"value":0.6}}},
"y2":{"datum":1.05},
"fill":{"field":"tone","type":"nominal","legend":null},
"stroke":{"field":"tone","type":"nominal","legend":null}}},
{"transform":[{"aggregate":[{"op":"count","as":"n"}],"groupby":["chr"]}],"mark":{"type":"rect","fill":"#D9D9D9","stroke":"#333333","strokeWidth":1},"encoding":{"y":{"datum":1.05,"type":"quantitative"},"y2":{"datum":1.3843}}},
{"transform":[{"aggregate":[{"op":"count","as":"n"}],"groupby":["chr"]}],"mark":{"type":"text"},"encoding":{"y":{"datum":1.217,"type":"quantitative"},"text":{"field":"chr"}}}
]},
{"transform":[{"filter":"datum.chr==='chr17'"}],"layer":[
{"mark":{"type":"rect","strokeWidth":0.5},"encoding":{
"x":{"field":"start","type":"quantitative","title":null,"scale":{"domain":[-3800000,78500000],"nice":false,"zero":false},"axis":{"values":[0,10000000.5,20000000,30000000.5,40000000,50000000.5,60000000,70000000.5],"tickCount":100,"labelExpr":"datum.value%1===0?format(datum.value,','):''","tickOpacity":{"condition":{"test":"datum.value%1===0","value":1},"value":0},"gridWidth":{"condition":{"test":"datum.value%1===0","value":1.2},"value":0.6}}},
"x2":{"field":"end"},
"y":{"datum":-0.05,"type":"quantitative","title":null,"scale":{"domain":[-0.05,1.3843],"nice":false,"zero":false},"axis":{"values":[0,0.125,0.25,0.375,0.5,0.625,0.75,0.875,1],"tickCount":100,"gridWidth":{"condition":{"test":"datum.value*4%1===0","value":1.2},"value":0.6}}},
"y2":{"datum":1.05},
"fill":{"field":"tone","type":"nominal","legend":null},
"stroke":{"field":"tone","type":"nominal","legend":null}}},
{"transform":[{"aggregate":[{"op":"count","as":"n"}],"groupby":["chr"]}],"mark":{"type":"rect","fill":"#D9D9D9","stroke":"#333333","strokeWidth":1},"encoding":{"y":{"datum":1.05,"type":"quantitative"},"y2":{"datum":1.3843}}},
{"transform":[{"aggregate":[{"op":"count","as":"n"}],"groupby":["chr"]}],"mark":{"type":"text"},"encoding":{"y":{"datum":1.217,"type":"quantitative"},"text":{"field":"chr"}}}
]},
{"transform":[{"filter":"datum.chr==='chr18'"}],"layer":[
{"mark":{"type":"rect","strokeWidth":0.5},"encoding":{
"x":{"field":"start","type":"quantitative","title":null,"scale":{"domain":[-4100000,78500000],"nice":false,"zero":false},"axis":{"values":[0,10000000.5,20000000,30000000.5,40000000,50000000.5,60000000,70000000.5],"tickCount":100,"labelExpr":"datum.value%1===0?format(datum.value,','):''","tickOpacity":{"condition":{"test":"datum.value%1===0","value":1},"value":0},"gridWidth":{"condition":{"test":"datum.value%1===0","value":1.2},"value":0.6}}},
"x2":{"field":"end"},
"y":{"datum":-0.05,"type":"quantitative","title":null,"scale":{"domain":[-0.05,1.3843],"nice":false,"zero":false},"axis":{"values":[0,0.125,0.25,0.375,0.5,0.625,0.75,0.875,1],"tickCount":100,"gridWidth":{"condition":{"test":"datum.value*4%1===0","value":1.2},"value":0.6}}},
"y2":{"datum":1.05},
"fill":{"field":"tone","type":"nominal","legend":null},
"stroke":{"field":"tone","type":"nominal","legend":null}}},
{"transform":[{"aggregate":[{"op":"count","as":"n"}],"groupby":["chr"]}],"mark":{"type":"rect","fill":"#D9D9D9","stroke":"#333333","strokeWidth":1},"encoding":{"y":{"datum":1.05,"type":"quantitative"},"y2":{"datum":1.3843}}},
{"transform":[{"aggregate":[{"op":"count","as":"n"}],"groupby":["chr"]}],"mark":{"type":"text"},"encoding":{"y":{"datum":1.217,"type":"quantitative"},"text":{"field":"chr"}}}
]},
{"transform":[{"filter":"datum.chr==='chr19'"}],"layer":[
{"mark":{"type":"rect","strokeWidth":0.5},"encoding":{
"x":{"field":"start","type":"quantitative","title":null,"scale":{"domain":[-2700000,57700000],"nice":false,"zero":false},"axis":{"values":[0,10000000.5,20000000,30000000.5,40000000,50000000.5],"tickCount":100,"labelExpr":"datum.value%1===0?format(datum.value,','):''","tickOpacity":{"condition":{"test":"datum.value%1===0","value":1},"value":0},"gridWidth":{"condition":{"test":"datum.value%1===0","value":1.2},"value":0.6}}},
"x2":{"field":"end"},
"y":{"datum":-0.05,"type":"quantitative","title":null,"scale":{"domain":[-0.05,1.3843],"nice":false,"zero":false},"axis":{"values":[0,0.125,0.25,0.375,0.5,0.625,0.75,0.875,1],"tickCount":100,"gridWidth":{"condition":{"test":"datum.value*4%1===0","value":1.2},"value":0.6}}},
"y2":{"datum":1.05},
"fill":{"field":"tone","type":"nominal","legend":null},
"stroke":{"field":"tone","type":"nominal","legend":null}}},
{"transform":[{"aggregate":[{"op":"count","as":"n"}],"groupby":["chr"]}],"mark":{"type":"rect","fill":"#D9D9D9","stroke":"#333333","strokeWidth":1},"encoding":{"y":{"datum":1.05,"type":"quantitative"},"y2":{"datum":1.3843}}},
{"transform":[{"aggregate":[{"op":"count","as":"n"}],"groupby":["chr"]}],"mark":{"type":"text"},"encoding":{"y":{"datum":1.217,"type":"quantitative"},"text":{"field":"chr"}}}
]},
{"transform":[{"filter":"datum.chr==='chr20'"}],"layer":[
{"mark":{"type":"rect","strokeWidth":0.5},"encoding":{
"x":{"field":"start","type":"quantitative","title":null,"scale":{"domain":[-3200000,65900000],"nice":false,"zero":false},"axis":{"values":[0,10000000.5,20000000,30000000.5,40000000,50000000.5,60000000],"tickCount":100,"labelExpr":"datum.value%1===0?format(datum.value,','):''","tickOpacity":{"condition":{"test":"datum.value%1===0","value":1},"value":0},"gridWidth":{"condition":{"test":"datum.value%1===0","value":1.2},"value":0.6}}},
"x2":{"field":"end"},
"y":{"datum":-0.05,"type":"quantitative","title":null,"scale":{"domain":[-0.05,1.3843],"nice":false,"zero":false},"axis":{"values":[0,0.125,0.25,0.375,0.5,0.625,0.75,0.875,1],"tickCount":100,"gridWidth":{"condition":{"test":"datum.value*4%1===0","value":1.2},"value":0.6}}},
"y2":{"datum":1.05},
"fill":{"field":"tone","type":"nominal","legend":null},
"stroke":{"field":"tone","type":"nominal","legend":null}}},
{"transform":[{"aggregate":[{"op":"count","as":"n"}],"groupby":["chr"]}],"mark":{"type":"rect","fill":"#D9D9D9","stroke":"#333333","strokeWidth":1},"encoding":{"y":{"datum":1.05,"type":"quantitative"},"y2":{"datum":1.3843}}},
{"transform":[{"aggregate":[{"op":"count","as":"n"}],"groupby":["chr"]}],"mark":{"type":"text"},"encoding":{"y":{"datum":1.217,"type":"quantitative"},"text":{"field":"chr"}}}
]},
{"transform":[{"filter":"datum.chr==='chr21'"}],"layer":[
{"mark":{"type":"rect","strokeWidth":0.5},"encoding":{
"x":{"field":"start","type":"quantitative","title":null,"scale":{"domain":[-2800000,46700000],"nice":false,"zero":false},"axis":{"values":[0,5000000.5,10000000,15000000.5,20000000,25000000.5,30000000,35000000.5,40000000,45000000.5],"tickCount":100,"labelExpr":"datum.value%1===0?format(datum.value,','):''","tickOpacity":{"condition":{"test":"datum.value%1===0","value":1},"value":0},"gridWidth":{"condition":{"test":"datum.value%1===0","value":1.2},"value":0.6}}},
"x2":{"field":"end"},
"y":{"datum":-0.05,"type":"quantitative","title":null,"scale":{"domain":[-0.05,1.3843],"nice":false,"zero":false},"axis":{"values":[0,0.125,0.25,0.375,0.5,0.625,0.75,0.875,1],"tickCount":100,"gridWidth":{"condition":{"test":"datum.value*4%1===0","value":1.2},"value":0.6}}},
"y2":{"datum":1.05},
"fill":{"field":"tone","type":"nominal","legend":null},
"stroke":{"field":"tone","type":"nominal","legend":null}}},
{"transform":[{"aggregate":[{"op":"count","as":"n"}],"groupby":["chr"]}],"mark":{"type":"rect","fill":"#D9D9D9","stroke":"#333333","strokeWidth":1},"encoding":{"y":{"datum":1.05,"type":"quantitative"},"y2":{"datum":1.3843}}},
{"transform":[{"aggregate":[{"op":"count","as":"n"}],"groupby":["chr"]}],"mark":{"type":"text"},"encoding":{"y":{"datum":1.217,"type":"quantitative"},"text":{"field":"chr"}}}
]},
{"transform":[{"filter":"datum.chr==='chr22'"}],"layer":[
{"mark":{"type":"rect","strokeWidth":0.5},"encoding":{
"x":{"field":"start","type":"quantitative","title":null,"scale":{"domain":[-3200000,51600000],"nice":false,"zero":false},"axis":{"values":[0,5000000.5,10000000,15000000.5,20000000,25000000.5,30000000,35000000.5,40000000,45000000.5,50000000],"tickCount":100,"labelExpr":"datum.value%1===0?format(datum.value,','):''","tickOpacity":{"condition":{"test":"datum.value%1===0","value":1},"value":0},"gridWidth":{"condition":{"test":"datum.value%1===0","value":1.2},"value":0.6}}},
"x2":{"field":"end"},
"y":{"datum":-0.05,"type":"quantitative","title":null,"scale":{"domain":[-0.05,1.3843],"nice":false,"zero":false},"axis":{"values":[0,0.125,0.25,0.375,0.5,0.625,0.75,0.875,1],"tickCount":100,"gridWidth":{"condition":{"test":"datum.value*4%1===0","value":1.2},"value":0.6}}},
"y2":{"datum":1.05},
"fill":{"field":"tone","type":"nominal","legend":null},
"stroke":{"field":"tone","type":"nominal","legend":null}}},
{"transform":[{"aggregate":[{"op":"count","as":"n"}],"groupby":["chr"]}],"mark":{"type":"rect","fill":"#D9D9D9","stroke":"#333333","strokeWidth":1},"encoding":{"y":{"datum":1.05,"type":"quantitative"},"y2":{"datum":1.3843}}},
{"transform":[{"aggregate":[{"op":"count","as":"n"}],"groupby":["chr"]}],"mark":{"type":"text"},"encoding":{"y":{"datum":1.217,"type":"quantitative"},"text":{"field":"chr"}}}
]}
]}],
"config":{
"font":"Liberation Sans",
"view":{"continuousWidth":237.5,"continuousHeight":94.4,"stroke":"#333333","strokeWidth":1,"fill":"#FFFFFF"},
"range":{"category":["#404040","#C4C4C4","#9A9A9A"]},
"axis":{"gridColor":"#EBEBEB","domain":false,"title":null},
"axisX":{"tickColor":"#333333","tickSize":3.4,"tickWidth":1,"labelColor":"#4D4D4D","labelFontSize":11.7,"labelAngle":-45,"labelPadding":2,"labelOverlap":false,"labelFlush":false},
"axisY":{"labels":false,"ticks":false,"grid":true},
"text":{"fontSize":11.5,"color":"#1A1A1A","baseline":"middle"}
}
}
